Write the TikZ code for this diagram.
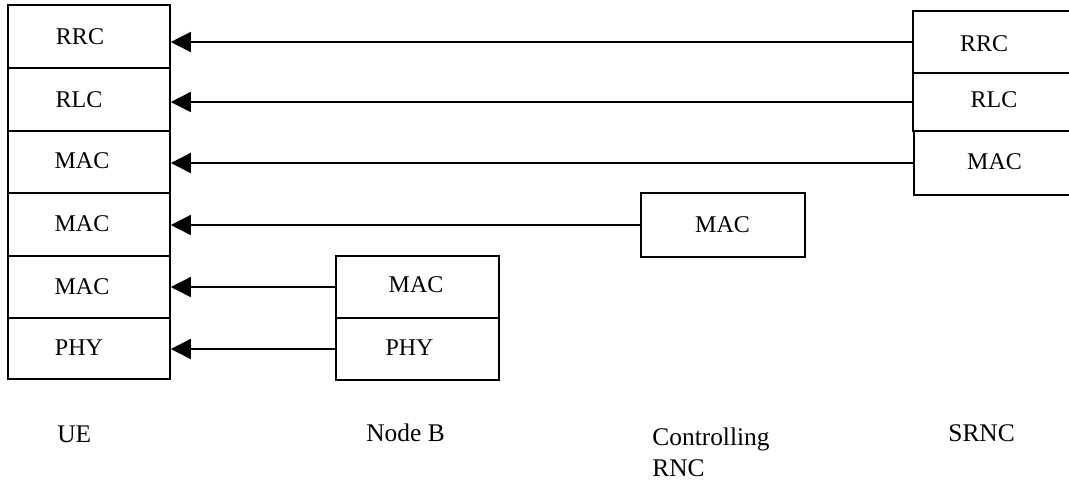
\documentclass[tikz,border=0pt]{standalone}
\usepackage{fontspec}
\setmainfont{Liberation Serif}
\usetikzlibrary{arrows.meta}
\tikzset{
  box/.style={draw, line width=0.8pt, inner sep=0pt, rectangle},
  lay/.style={font=\fontsize{12}{14}\selectfont, inner sep=0pt, anchor=center},
  lbl/.style={font=\fontsize{12.7}{15.5}\selectfont, inner sep=0pt, anchor=base west, align=left},
  arr/.style={line width=0.8pt, -{Triangle[length=10pt,width=10pt]}}
}
\begin{document}
\begin{tikzpicture}[x=0.5pt, y=-0.5pt]
\clip (0,0) rectangle (1069,479);
\fill[white] (0,0) rectangle (1069,479);
% UE stack
\node[box, minimum width=81pt, minimum height=31.5pt] (u1) at (89,36.5) {};
\node[box, minimum width=81pt, minimum height=31.5pt] (u2) at (89,99.5) {};
\node[box, minimum width=81pt, minimum height=31pt] (u3) at (89,162) {};
\node[box, minimum width=81pt, minimum height=31.5pt] (u4) at (89,224.5) {};
\node[box, minimum width=81pt, minimum height=31pt] (u5) at (89,287) {};
\node[box, minimum width=81pt, minimum height=30.5pt] (u6) at (89,348.5) {};
\node[lay] (tu1) at (80,37) {RRC};
\node[lay] (tu2) at (79,100) {RLC};
\node[lay] (tu3) at (82,161) {MAC};
\node[lay] (tu4) at (82,224) {MAC};
\node[lay] (tu5) at (82,287) {MAC};
\node[lay] (tu6) at (79,348) {PHY};
% SRNC stack
\node[box, minimum width=83.5pt, minimum height=31pt] (s1) at (996.5,42) {};
\node[box, minimum width=83.5pt, minimum height=29pt] (s2) at (996.5,102) {};
\node[box, minimum width=83pt, minimum height=32pt] (s3) at (997,163) {};
\node[lay] (ts1) at (984,44) {RRC};
\node[lay] (ts2) at (994,99.5) {RLC};
\node[lay] (ts3) at (994.5,162) {MAC};
% Controlling RNC
\node[box, minimum width=82pt, minimum height=32pt] (c1) at (723,225) {};
\node[lay] (tc1) at (722.5,224.5) {MAC};
% Node B
\node[box, minimum width=81.5pt, minimum height=31pt] (n1) at (417.5,287) {};
\node[box, minimum width=81.5pt, minimum height=31pt] (n2) at (417.5,349) {};
\node[lay] (tn1) at (416,285) {MAC};
\node[lay] (tn2) at (409.5,347.5) {PHY};
% connectors
\draw[arr] (s1.west) -- (s1.west -| u1.east);
\draw[arr] (s2.west) -- (s2.west -| u2.east);
\draw[arr] (s3.west) -- (s3.west -| u3.east);
\draw[arr] (c1.west) -- (c1.west -| u4.east);
\draw[arr] (n1.west) -- (n1.west -| u5.east);
\draw[arr] (n2.west) -- (n2.west -| u6.east);
% labels
\node[lbl] (lue) at (57,442) {UE};
\node[lbl] (lnb) at (366,441) {Node B};
\node[lbl] (lcr) at (652,445) {Controlling};
\node[lbl] (lcr2) at (652,476) {RNC};
\node[lbl] (lsr) at (948,441) {SRNC};
\end{tikzpicture}
\end{document}
